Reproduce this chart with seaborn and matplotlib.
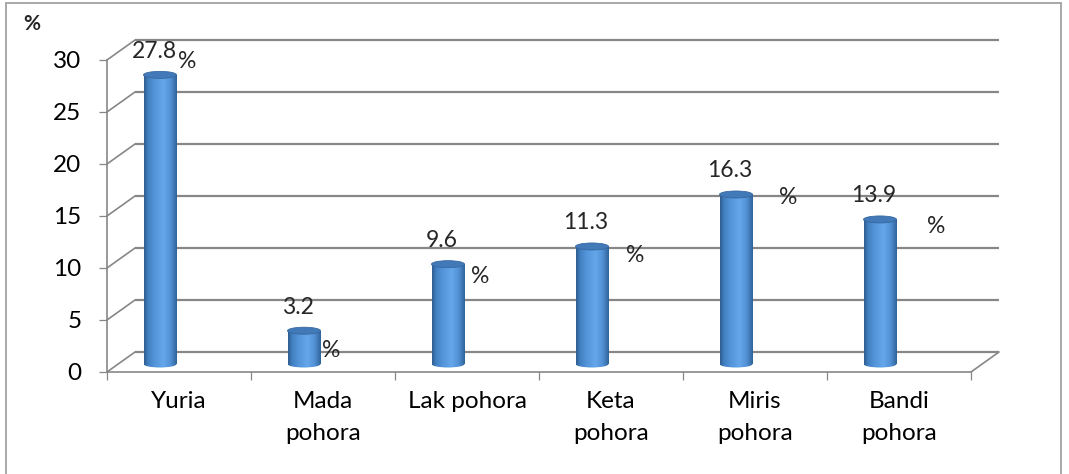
import numpy as np
import pandas as pd
import matplotlib
matplotlib.use("Agg")
import matplotlib.pyplot as plt
import matplotlib.transforms as mtransforms
from matplotlib.patches import Ellipse, Rectangle
from matplotlib.colors import LinearSegmentedColormap
import seaborn as sns

# data
categories = ["Yuria", "Mada\npohora", "Lak pohora", "Keta\npohora", "Miris\npohora", "Bandi\npohora"]
values = [27.8, 3.2, 9.6, 11.3, 16.3, 13.9]
yticks = [0, 5, 10, 15, 20, 25, 30]

# where the "%" of each data label sits, pixels from the top of the cylinder
pct_offsets = [(27, 13), (27, -20), (32, -12), (43, -9), (52, -3), (56, -7)]

sns.set_theme(style="white")
plt.rcParams["font.family"] = ["Lato", "DejaVu Sans"]

W, H = 1069, 474
fig = plt.figure(figsize=(W / 100, H / 100), dpi=100)
ax = fig.add_axes([107 / W, 1 - 372 / H, 864 / W, 312 / H])

grid_col = "#878787"
ppx = 864 / 6     # pixels per category
ppy = 312 / 30    # pixels per unit
DX, DY = 28 / ppx, 20 / ppy  # depth of the 3d box
bar_w = 33 / ppx
ell_h = 7 / ppy
fs_tick = 17.5
fs_lab = 16.5

df = pd.DataFrame({"cat": categories, "val": values})
sns.barplot(data=df, x="cat", y="val", width=bar_w, color="#5596da",
            ax=ax, zorder=3, linewidth=0)

ax.set_xlim(-0.5, 5.5)
ax.set_ylim(0, 30)

# back wall gridlines + left wall diagonals
ax.hlines([y + DY for y in yticks], -0.5 + DX, 5.5 + DX, color=grid_col,
          lw=1.6, zorder=1, clip_on=False)
for y in yticks:
    ax.plot([-0.5, -0.5 + DX], [y, y + DY], color=grid_col, lw=1.2,
            zorder=1, clip_on=False)
ax.plot([5.5, 5.5 + DX], [0, DY], color=grid_col, lw=1.2, zorder=1, clip_on=False)

# cylinders: shift the seaborn bars to mid depth and shade them
shift = mtransforms.offset_copy(ax.transData, fig=fig, x=-19, y=8, units="dots")
cmap = LinearSegmentedColormap.from_list("cyl", [
    (0.0, "#2f5d90"), (0.12, "#4280c2"), (0.35, "#5697dc"),
    (0.6, "#64a7ea"), (0.82, "#5190d4"), (1.0, "#31639b")])
grad = np.linspace(0, 1, 64).reshape(1, -1)

for p, v in zip(ax.patches, values):
    x0, w = p.get_x(), p.get_width()
    xc = x0 + w / 2
    p.set_transform(shift)
    im = ax.imshow(grad, cmap=cmap, extent=(x0, x0 + w, 0, v), transform=shift,
                   aspect="auto", zorder=3.1, interpolation="bilinear")
    im.set_clip_path(p)
    base = Ellipse((xc, 0), w, ell_h, transform=shift, facecolor="none",
                   edgecolor="none", zorder=3)
    ax.add_patch(base)
    im2 = ax.imshow(grad, cmap=cmap, extent=(x0, x0 + w, -ell_h, ell_h),
                    transform=shift, aspect="auto", zorder=3.1,
                    interpolation="bilinear")
    im2.set_clip_path(base)
    top = Ellipse((xc, v), w, ell_h, transform=shift, facecolor="#4279b8",
                  edgecolor="#37689f", lw=0.6, zorder=3.3)
    ax.add_patch(top)

ax.set_xlim(-0.5, 5.5)
ax.set_ylim(0, 30)

# data labels
for i, v in enumerate(values):
    xc = ax.patches[i].get_x() + ax.patches[i].get_width() / 2
    ax.annotate(f"{v}", xy=(xc, v), xycoords=shift, xytext=(-6, 23.5),
                textcoords="offset pixels", ha="center", va="center",
                fontsize=fs_lab, zorder=5)
    dx, dy = pct_offsets[i]
    ax.annotate("%", xy=(xc, v), xycoords=shift, xytext=(dx, dy),
                textcoords="offset pixels", ha="center", va="center",
                fontsize=fs_lab, zorder=5)

# axes lines and ticks
sns.despine(ax=ax, top=True, right=True)
for s in ["left", "bottom"]:
    ax.spines[s].set_color(grid_col)
    ax.spines[s].set_linewidth(1.2)
ax.set_yticks(yticks)
ax.set_xticks(range(len(categories)))
ax.set_xticklabels(categories, linespacing=1.62)
ax.set_xticks(np.arange(-0.5, 6, 1), minor=True)
ax.tick_params(axis="y", left=True, length=5.8, width=0.9, color=grid_col,
               pad=12.5, labelsize=fs_tick, labelcolor="black")
ax.tick_params(axis="x", which="major", length=0, pad=14, labelsize=fs_tick,
               labelcolor="black")
ax.tick_params(axis="x", which="minor", bottom=True, length=5.8, width=0.9,
               color=grid_col)
ax.set_xlabel("")
ax.set_ylabel("")
ax.patch.set_alpha(0)

fig.text(32 / W, 1 - 24 / H, "%", fontsize=15, fontweight="bold",
         ha="center", va="center")

# chart border
fig.patches.append(Rectangle((6 / W, -0.02), 1055 / W, 1.02 - 3 / H,
                             transform=fig.transFigure, fill=False,
                             edgecolor="#a8a8a8", lw=1.4))

fig.savefig("out.png", dpi=100)
